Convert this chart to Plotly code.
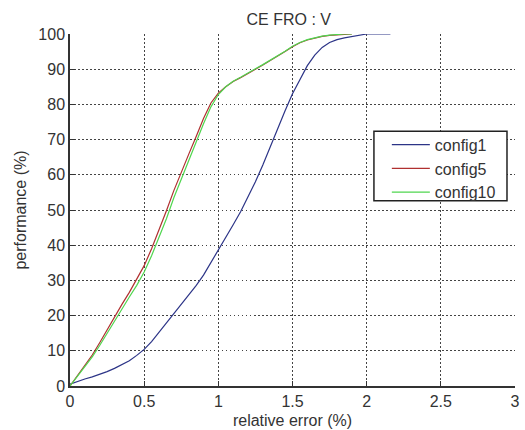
import plotly.graph_objects as go

# ---- data ----
config1_x = [0, 0.05, 0.1, 0.15, 0.2, 0.25, 0.3, 0.35, 0.4, 0.45, 0.5, 0.55, 0.6, 0.65, 0.7,
             0.75, 0.8, 0.85, 0.9, 0.95, 1.0, 1.05, 1.1, 1.15, 1.2, 1.25, 1.3, 1.35, 1.4, 1.45,
             1.5, 1.55, 1.6, 1.65, 1.7, 1.75, 1.8, 1.85, 1.9, 1.95, 2.0, 2.16]
config1_y = [0.5, 1.3, 2.0, 2.6, 3.3, 4.1, 5.0, 6.0, 7.2, 8.7, 10.4, 12.6, 15.2, 17.9, 20.6,
             23.2, 25.8, 28.5, 31.5, 35.0, 38.5, 42.0, 45.8, 49.5, 53.6, 58.0, 62.8, 68.0, 73.2, 78.2,
             83.0, 87.2, 91.0, 94.0, 96.2, 97.6, 98.4, 98.9, 99.3, 99.7, 100, 100]

config5_x = [0, 0.05, 0.1, 0.15, 0.2, 0.25, 0.3, 0.35, 0.4, 0.45, 0.5, 0.55, 0.6, 0.65, 0.7,
             0.75, 0.8, 0.85, 0.9, 0.95, 1.0, 1.05, 1.1, 1.15, 1.2, 1.25, 1.3, 1.35, 1.4, 1.45,
             1.5, 1.55, 1.6, 1.65, 1.7, 1.75, 1.8, 1.85, 1.9]
config5_y = [0, 3, 6, 8.8, 12.3, 16, 19.8, 23.2, 26.6, 30.2, 34.2, 39.0, 44.2, 49.8, 55.5,
             60.8, 65.8, 70.8, 76, 80.4, 83.2, 85.0, 86.5, 87.6, 88.7, 90, 91.2, 92.4, 93.6, 95.0,
             96.4, 97.5, 98.3, 98.9, 99.3, 99.6, 99.8, 100, 100]

config10_x = [0, 0.05, 0.1, 0.15, 0.2, 0.25, 0.3, 0.35, 0.4, 0.45, 0.5, 0.55, 0.6, 0.65, 0.7,
              0.75, 0.8, 0.85, 0.9, 0.95, 1.0, 1.05, 1.1, 1.15, 1.2, 1.25, 1.3, 1.35, 1.4, 1.45,
              1.5, 1.55, 1.6, 1.65, 1.7, 1.75, 1.8, 1.85, 1.9]
config10_y = [0, 2.8, 5.6, 8.3, 11.5, 15, 18.6, 22, 25.3, 28.6, 32.4, 37.0, 42, 47.5, 53.5,
              58.8, 64, 69.5, 74.5, 79.3, 82.8, 85.0, 86.6, 87.7, 88.8, 90.1, 91.3, 92.5, 93.7, 95.1,
              96.5, 97.6, 98.4, 99.0, 99.4, 99.7, 99.9, 100, 100]

series_names = ["config1", "config5", "config10"]
series_colors = ["#2c3487", "#b03030", "#4fd64f"]

x_ticks = [0, 0.5, 1, 1.5, 2, 2.5, 3]
x_tick_labels = ["0", "0.5", "1", "1.5", "2", "2.5", "3"]
y_ticks = [0, 10, 20, 30, 40, 50, 60, 70, 80, 90, 100]

title_text = "CE FRO : V"
x_title = "relative error (%)"
y_title = "performance (%)"

FONT = "Liberation Sans, Arial, sans-serif"
TXT = "#333333"

fig = go.Figure()
for xs, ys, name, col in zip([config1_x, config5_x, config10_x],
                             [config1_y, config5_y, config10_y],
                             series_names, series_colors):
    fig.add_trace(go.Scatter(x=xs, y=ys, mode="lines", name=name,
                             line=dict(color=col, width=1.2)))

axis_common = dict(
    showgrid=True, gridcolor="#444444", griddash="1.5px,2.5px", gridwidth=1,
    zeroline=False, showline=True, linecolor="#333333", linewidth=1.5,
    ticks="inside", ticklen=5, tickcolor="#333333", automargin=False,
    tickfont=dict(family=FONT, size=16, color=TXT),
)

# legend frame (white box with dark border), drawn in paper coordinates
fig.add_shape(type="rect", xref="paper", yref="paper",
              x0=0.683, x1=0.982, y0=0.526, y1=0.724,
              line=dict(color="#222222", width=1.5), fillcolor="white", layer="above")

fig.update_layout(
    width=525, height=430,
    margin=dict(l=70, r=10, t=34, b=44),
    paper_bgcolor="white", plot_bgcolor="white",
    title=dict(text=title_text, x=0.55, xanchor="center",
               y=0.956, yanchor="middle", yref="container",
               font=dict(family=FONT, size=16, color=TXT)),
    font=dict(family=FONT, color=TXT),
    legend=dict(x=0.712, y=0.734, xanchor="left", yanchor="top",
                bgcolor="rgba(0,0,0,0)", borderwidth=0,
                font=dict(family=FONT, size=16, color=TXT),
                tracegroupgap=0, itemwidth=38),
    showlegend=True,
)
fig.update_xaxes(range=[0, 3], tickvals=x_ticks, ticktext=x_tick_labels,
                 title=dict(text=x_title, font=dict(family=FONT, size=16, color=TXT), standoff=6),
                 **axis_common)
fig.update_yaxes(range=[0, 100], tickvals=y_ticks,
                 title=dict(text=y_title, font=dict(family=FONT, size=16, color=TXT), standoff=8),
                 **axis_common)

fig.write_html("out.html")
